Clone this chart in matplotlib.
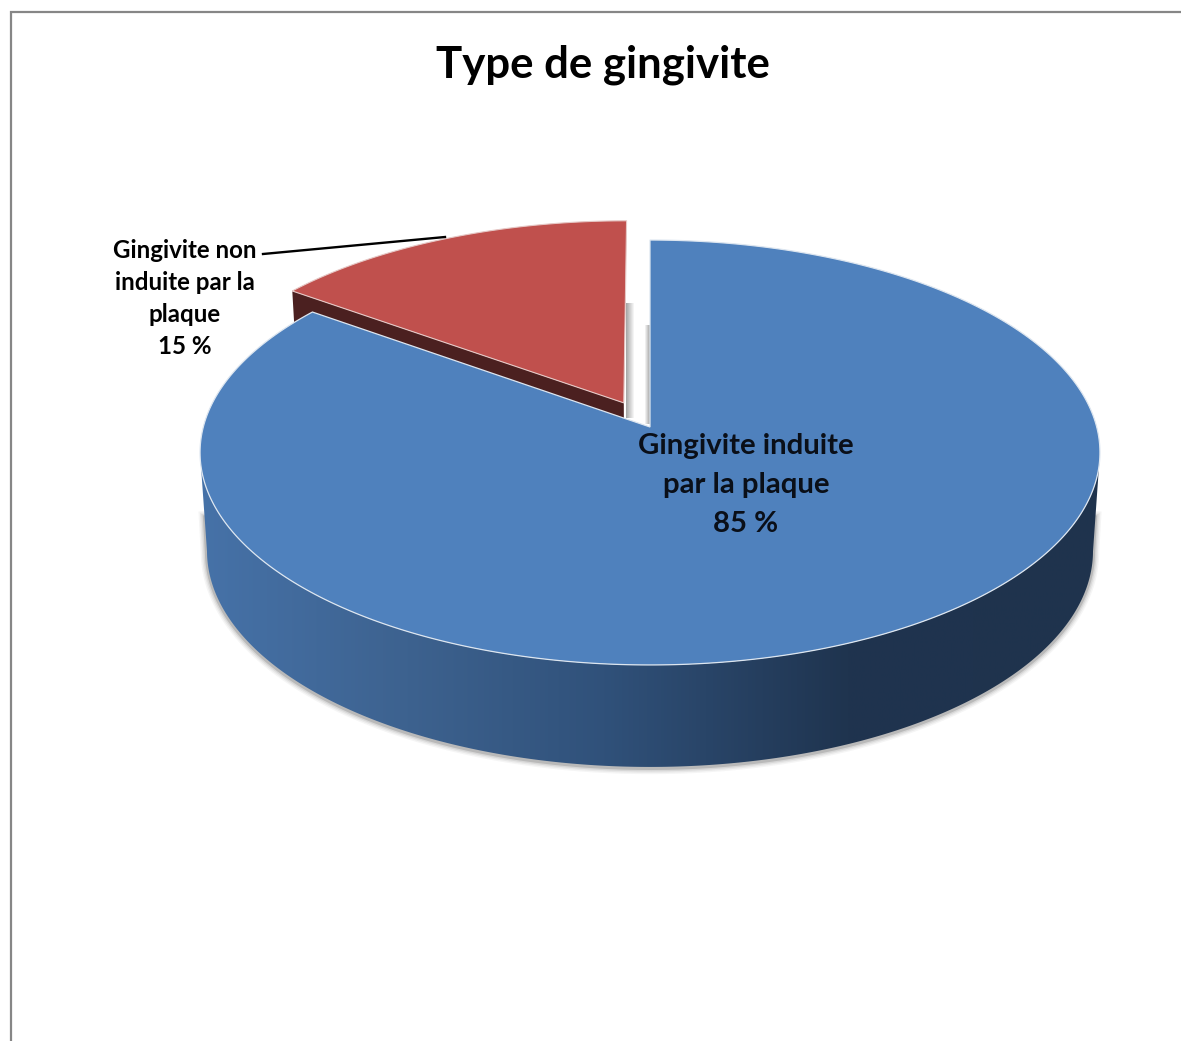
import numpy as np
import matplotlib
matplotlib.use('Agg')
import matplotlib.pyplot as plt
from matplotlib.colors import LinearSegmentedColormap
from matplotlib.patches import Polygon

plt.rcParams['font.family'] = ['Lato', 'DejaVu Sans']

# Données
parts = [85, 15]
title = 'Type de gingivite'
label_main = 'Gingivite induite\npar la plaque\n85 %'
label_other = 'Gingivite non\ninduite par la\nplaque\n15 %'

# Géométrie du camembert 3D (pixels de l'image)
k = 0.12            # perspective
cx = 650
top_y, top_a, top_b = 427, 446.7, 209.4
bot_y, bot_a, bot_b = 525, 439.8, 212.9
explode = 0.131     # part détachée


def project(u, v, y0, a, b):
    w = 1 + k * v
    return cx + a * u / w, y0 - b * v / w


def top(u, v):
    return project(u, v, top_y, top_a, top_b)


def bottom(u, v):
    return project(u, v, bot_y, bot_a, bot_b)


def arc(t1, t2, n=400):
    t = np.radians(np.linspace(t1, t2, n))
    return np.cos(t), np.sin(t)


# angles : départ à 12 h, sens horaire
start = 90
split = start - 360 * parts[0] / sum(parts) + 360   # fin de la grande part
mid = (split + start) / 2
ex, ey = explode * np.cos(np.radians(mid)), explode * np.sin(np.radians(mid))

fig = plt.figure(figsize=(11.81, 10.41), dpi=100)
ax = fig.add_axes([0, 0, 1, 1])

# cadre
ax.plot([1181, 11, 11], [12, 12, 1041], color='#868686', lw=1.6, solid_joinstyle='miter')

# contour avant de la paroi : du bord gauche au bord droit
u, v = arc(187, 353)
tx, ty = top(u, v)
bx, by = bottom(u, v)

# ombre sous le disque, remonte un peu le long des côtés
sx = np.r_[bx[0] - 2, bx, bx[-1] + 2]
sy = np.r_[by[0] - 35, by, by[-1] - 35]
for lw, al in [(9, 0.05), (7, 0.07), (5, 0.1), (3, 0.2)]:
    ax.plot(sx, sy + 1, color='#444444', lw=lw, alpha=al, zorder=1)

# paroi avec dégradé
wall_cmap = LinearSegmentedColormap.from_list('wall', [
    (0.0, '#4672a8'), (0.23, '#3d628f'), (0.45, '#30517a'),
    (0.72, '#1f344f'), (1.0, '#1f334d')])
wall = Polygon(np.c_[np.r_[tx, bx[::-1]], np.r_[ty, by[::-1]]], closed=True, transform=ax.transData)
grad = ax.imshow(np.linspace(0, 1, 512)[None, :], cmap=wall_cmap, extent=[200, 1100, 780, 440],
                 aspect='auto', zorder=2)
grad.set_clip_path(wall)

# part rouge : paroi coupée puis dessus
u = np.array([ex, ex + np.cos(np.radians(split))])
v = np.array([ey, ey + np.sin(np.radians(split))])
tx, ty = top(u, v)
bx, by = bottom(u, v)
ax.fill(np.r_[tx, bx[::-1]], np.r_[ty, by[::-1]], color='#4b2020', lw=0, zorder=3)

u, v = arc(split, start)
u, v = np.r_[0, u] + ex, np.r_[0, v] + ey
rx, ry = top(u, v)
ax.fill(rx, ry, facecolor='#c0504d', edgecolor='#e6c8c6', lw=0.8, zorder=4)

# ombres dans l'écart entre les parts
for i, x in enumerate(np.linspace(626, 633, 8)):
    ax.fill_between([x, x + 1], 303, 418, color='#999999', alpha=0.85 * (1 - i / 8), lw=0, zorder=1)
for i, x in enumerate(np.linspace(645, 649, 5)):
    ax.fill_between([x, x + 1], 325, 424, color='#999999', alpha=0.15 + 0.17 * i, lw=0, zorder=1)

# grande part
u, v = arc(start, split - 360)
u, v = np.r_[0, u], np.r_[0, v]
mx, my = top(u, v)
ax.fill(mx, my, facecolor='#4f81bd', edgecolor='#dde6f0', lw=0.9, zorder=5)

# trait de rappel
ax.plot([263, 445], [254, 237], color='black', lw=1.7, zorder=6)

ax.text(603, 65, title, ha='center', va='center', fontsize=31.5, fontweight='bold', color='black')
for line, y in zip(label_main.split('\n'), [446, 485, 524]):
    ax.text(746, y, line, ha='center', va='center', fontsize=21.2, color='#0a0f18', zorder=7, fontweight='bold')
for line, y in zip(label_other.split('\n'), [250, 282, 315, 347]):
    ax.text(185, y, line, ha='center', va='center', fontsize=17.4, color='black', zorder=7, fontweight='bold')

ax.set_xlim(0, 1181)
ax.set_ylim(1041, 0)
ax.axis('off')

fig.savefig('out.png', dpi=100, facecolor='white')
